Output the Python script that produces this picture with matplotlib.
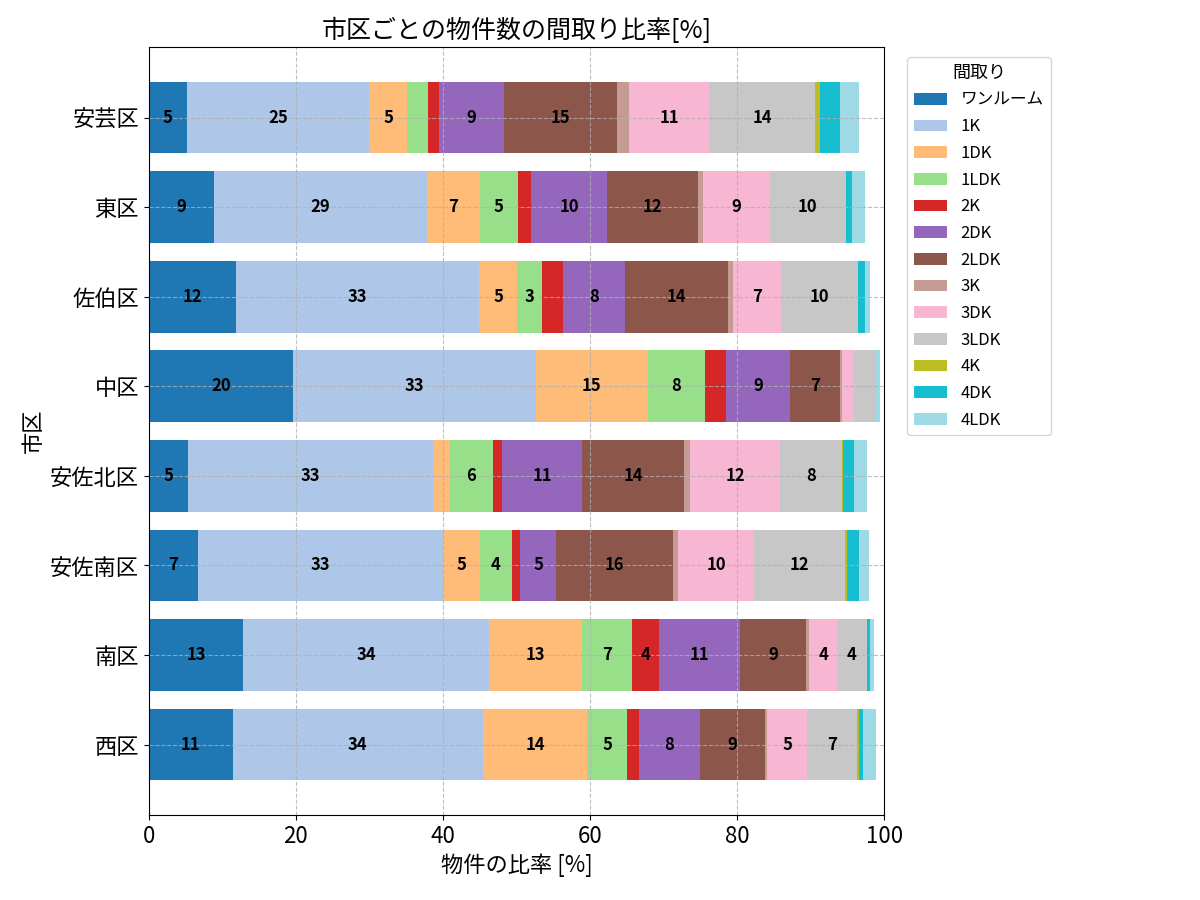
import numpy as np
import pandas as pd
import matplotlib
matplotlib.use('Agg')
import matplotlib.pyplot as plt

plt.rcParams['font.family'] = ['Noto Sans CJK JP', 'DejaVu Sans']

# Layout categories (legend order)
madori = ['ワンルーム', '1K', '1DK', '1LDK', '2K', '2DK', '2LDK',
          '3K', '3DK', '3LDK', '4K', '4DK', '4LDK']

# Wards, top to bottom
cities = ['安芸区', '東区', '佐伯区', '中区', '安佐北区', '安佐南区', '南区', '西区']

# Share of listings [%] per ward
aki = [5.2, 24.8, 5.1, 2.9, 1.5, 8.8, 15.4, 1.6, 10.9, 14.4, 0.7, 2.7, 2.5]
higashi = [8.8, 29.0, 7.2, 5.2, 1.8, 10.3, 12.4, 0.7, 9.0, 10.4, 0.0, 0.8, 1.8]
saeki = [11.8, 33.1, 5.2, 3.4, 2.8, 8.4, 14.0, 0.7, 6.6, 10.4, 0.0, 0.9, 0.8]
naka = [19.6, 33.0, 15.2, 7.8, 2.9, 8.7, 6.8, 0.3, 1.6, 2.9, 0.0, 0.1, 0.5]
asakita = [5.3, 33.3, 2.3, 5.9, 1.2, 10.9, 13.9, 0.8, 12.2, 8.4, 0.2, 1.4, 1.8]
asaminami = [6.7, 33.3, 5.0, 4.4, 1.1, 4.9, 15.8, 0.8, 10.3, 12.4, 0.2, 1.6, 1.4]
minami = [12.8, 33.5, 12.6, 6.8, 3.6, 11.1, 9.0, 0.4, 3.8, 4.0, 0.0, 0.4, 0.6]
nishi = [11.4, 34.0, 14.2, 5.4, 1.6, 8.3, 8.9, 0.3, 5.4, 6.8, 0.2, 0.6, 1.8]

df = pd.DataFrame([aki, higashi, saeki, naka, asakita, asaminami, minami, nishi],
                  index=cities, columns=madori)

fig, ax = plt.subplots(figsize=(12, 9), dpi=100)
fig.subplots_adjust(left=0.124, right=0.737, top=0.948, bottom=0.094)

df.plot(kind='barh', stacked=True, colormap='tab20', width=0.8, ax=ax,
        legend=False)
# same margins as plain matplotlib autoscale, top row first
ax.set_ylim(len(cities) - 1 + 0.79, -0.79)

# numbers inside segments (only if wide enough)
for c in ax.containers:
    labels = [f'{v:.0f}' if v >= 3 else '' for v in c.datavalues]
    ax.bar_label(c, labels=labels, label_type='center',
                 fontsize=12, fontweight='bold')

ax.set_xlim(0, 100)
ax.set_title('市区ごとの物件数の間取り比率[%]', fontsize=18)
ax.set_xlabel('物件の比率 [%]', fontsize=16)
ax.set_ylabel('市区', fontsize=16)
ax.tick_params(axis='both', labelsize=16)
ax.grid(linestyle='--', alpha=0.8)
ax.legend(title='間取り', bbox_to_anchor=(1.02, 0.997), loc='upper left',
          fontsize=12, title_fontsize=13, labelspacing=0.58)

plt.savefig('out.png')
